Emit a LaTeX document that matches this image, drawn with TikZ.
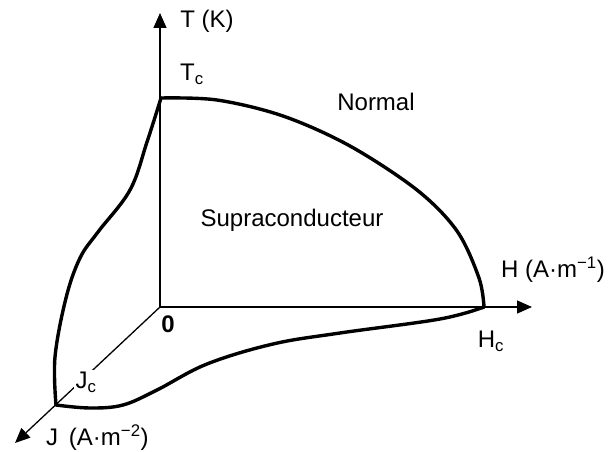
\documentclass[tikz,border=0pt]{standalone}
\usepackage{fontspec}
\setmainfont{Liberation Sans}
\usetikzlibrary{arrows.meta}
\begin{document}
\begin{tikzpicture}[x=1pt,y=-1pt,
  axis/.style={line width=1.3pt,-{Triangle[length=15pt,width=13pt]}},
  curve/.style={line width=3.4pt,line join=round,line cap=round},
  lbl/.style={font=\fontsize{24}{28}\selectfont,inner sep=1pt}]
\useasboundingbox (0,0) rectangle (608,452);
\coordinate (O) at (160,307);
\coordinate (Ttip) at (160,13);
\coordinate (Htip) at (532,307);
\coordinate (Jtip) at (15,443);
\coordinate (Tc) at (161,98);
\coordinate (Hc) at (484,307);
\coordinate (Jc) at (56,405);
% axes
\draw[axis] (O) -- (Ttip);
\draw[axis] (O) -- (Htip);
\draw[axis] (O) -- (Jtip);
% curves
\draw[curve] plot[smooth,tension=0.55] coordinates {(161,98) (217,100) (283,116) (350,146) (417,190) (457,231) (479,278) (484,307)};
\draw[curve] plot[smooth,tension=0.6] coordinates {(484,307) (440,319) (340,333) (273,344) (207,364) (157,390) (123,405) (90,408) (56,405)};
\draw[curve] plot[smooth,tension=0.6] coordinates {(56,405) (55,357) (66,298) (80,258) (98,232) (130,190) (147,142) (161,98)};
% labels
\node[lbl,fill=white,inner sep=2pt] (jcl) at (86,382) {J\textsubscript{c}};
\node[lbl] (tk) at (207,21) {T (K)};
\node[lbl] (tcl) at (192,74) {T\textsubscript{c}};
\node[lbl] (norm) at (376,102) {Normal};
\node[lbl] (supra) at (292,220) {Supraconducteur};
\node[lbl,anchor=east] (hl) at (606,270) {H (A·m\textsuperscript{−1})};
\node[lbl] (hcl) at (491,341) {H\textsubscript{c}};
\node[lbl] (zero) at (168,324) {\textbf{0}};
\node[lbl,anchor=west] (jl) at (45,438) {J\hspace{0.45em}(A·m\textsuperscript{−2})};
\end{tikzpicture}
\end{document}
